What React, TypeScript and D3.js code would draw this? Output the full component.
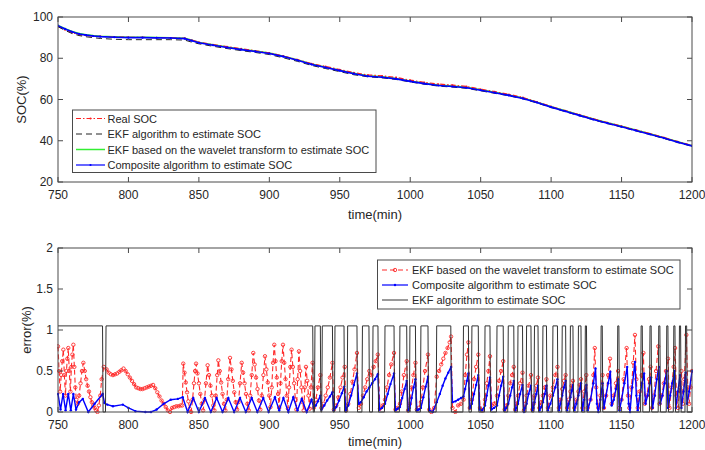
import React from 'react';
import * as d3 from 'd3';

// ---------- axes ----------
const xTicks = [750, 800, 850, 900, 950, 1000, 1050, 1100, 1150, 1200];
const socTicks = [20, 40, 60, 80, 100];
const errTicks = [0, 0.5, 1, 1.5, 2];

// ---------- top: SOC curves ----------
const socTime = [750,755,760,765,770,775,780,790,800,810,820,830,840,845,850,860,870,880,890,900,910,920,930,940,950,960,970,980,990,1000,1010,1020,1030,1040,1050,1060,1070,1080,1090,1100,1110,1120,1130,1140,1150,1160,1170,1180,1190,1200];
const socReal = [95.5,93.8,92.4,91.4,91.0,90.7,90.6,90.3,90.2,90.1,90.0,89.9,89.7,88.8,87.8,86.6,85.6,84.6,83.6,82.6,81.1,79.3,77.4,76.0,74.5,73.0,71.9,71.5,70.7,69.4,68.3,67.5,67.0,66.3,65.0,63.8,62.5,61.0,58.8,56.6,54.6,52.6,50.6,48.8,47.1,45.3,43.5,41.6,39.6,37.7];
const socEkf = [95.3,93.5,92.0,91.0,90.4,90.0,89.6,89.2,89.0,89.0,89.0,89.0,88.8,87.8,87.0,85.8,84.7,83.7,82.8,81.8,80.2,78.5,76.5,75.0,73.5,72.0,71.0,70.5,69.7,68.5,67.4,66.5,66.0,65.4,64.2,63.0,61.8,60.3,58.3,56.1,54.1,52.1,50.1,48.3,46.6,44.8,43.0,41.1,39.1,37.3];
const socWavelet = [95.9,94.3,93.0,92.0,91.4,91.0,90.7,90.4,90.2,90.2,90.1,90.0,89.7,88.7,87.7,86.5,85.4,84.4,83.5,82.5,81.0,79.2,77.2,75.7,74.2,72.7,71.5,71.0,70.2,69.0,67.9,67.0,66.5,65.9,64.7,63.5,62.2,60.7,58.7,56.5,54.5,52.5,50.5,48.7,47.0,45.2,43.4,41.5,39.5,37.6];
const socComposite = [95.8,94.2,92.8,91.8,91.2,90.8,90.5,90.2,90.0,90.0,89.9,89.8,89.5,88.5,87.5,86.3,85.2,84.2,83.3,82.3,80.8,79.0,77.0,75.5,74.0,72.5,71.3,70.8,70.0,68.8,67.7,66.8,66.3,65.7,64.5,63.3,62.0,60.5,58.5,56.3,54.3,52.3,50.3,48.5,46.8,45.0,43.2,41.3,39.3,37.5];

// ---------- bottom: errors ----------
const ekfErrLevel = 1.05;
const ekfHighIntervals: [number, number][] = [
  [750,781.6],[784.1,930.8],[932.4,936.2],[937.6,944.8],[946.6,953.0],[955.6,962.2],[966.1,970.7],[973.6,977.1],
  [982.1,988.5],[992.7,997.5],[999.8,1003.7],[1007.6,1012.6],[1018.8,1028.8],[1037.8,1041.3],[1043.8,1048.3],
  [1053.1,1056.6],[1061.6,1066.0],[1069.6,1073.5],[1076.5,1079.7],[1082.6,1085.7],[1088.2,1090.7],[1094.2,1096.7],
  [1101.3,1104.5],[1107.9,1110.3],[1113.7,1115.5],[1119.4,1121.2],[1124.3,1125.1],[1135.5,1136.3],[1147.3,1148.1],
  [1163.9,1164.7],[1170.2,1171.0],[1176.4,1177.2],[1182.1,1182.9],[1187.1,1187.9],[1191.1,1191.9],[1195.4,1196.2]
];

const waveletErr: [number, number][] = [
  [750,0.8],[750.8,0.5],[751.5,0.25],[752.3,0.45],[753,0.62],[753.8,0.76],[754.5,0.45],[755.3,0.2],[756,0.5],[756.6,0.65],[757.3,0.78],[758,0.5],[758.8,0.25],[759.5,0.55],[760.2,0.7],[760.9,0.82],[761.6,0.55],[762.3,0.3],[763,0.15],[764,0.1],[765,0.2],[766,0.35],[767,0.5],[768,0.6],[769,0.5],[770,0.4],[771,0.32],[772,0.25],[773,0.18],[774,0.12],[775,0.08],[776,0.05],[777,0.02],[778,0.0],[779,0.08],[780,0.2],[781,0.4],[782.5,0.55],
  [784.5,0.52],[786,0.48],[787.5,0.46],[789,0.45],[790.5,0.46],[792,0.47],[793.5,0.49],[795,0.51],[796.5,0.53],[798,0.5],[799.5,0.46],[801,0.42],[802.5,0.38],[804,0.34],[805.5,0.3],[807,0.29],[808.5,0.28],[810,0.28],[811.5,0.29],[813,0.3],[814.5,0.31],[816,0.32],[817.5,0.33],[819,0.29],[820.5,0.24],[822,0.19],[823.5,0.14],[825,0.1],[826.5,0.06],[828,0.02],[829.5,0.0],[831,0.05],[832.5,0.06],[834,0.07],[835.5,0.07],[837,0.08],[838.2,0.08],
  [838.9,0.59],[839.8,0.48],[840.7,0.36],[841.6,0.24],[842.5,0.13],[843.5,0.04],[844.5,0.0],[845.5,0.15],[846.5,0.35],[847.3,0.5],[848,0.59],
  [849,0.47],[850,0.35],[851,0.22],[852,0.1],[853,0.02],[854,0.15],[855,0.35],[856.2,0.57],
  [857.2,0.45],[858.2,0.32],[859.2,0.2],[860.2,0.08],[861,0.02],[862,0.2],[863,0.45],[863.8,0.63],
  [864.8,0.5],[865.8,0.36],[866.8,0.22],[867.8,0.1],[868.8,0.02],[869.8,0.15],[870.8,0.4],[872.1,0.66],
  [873.1,0.52],[874.1,0.38],[875.1,0.24],[876.1,0.12],[877.1,0.03],[878.1,0.12],[879.2,0.35],[880.4,0.6],
  [881.4,0.48],[882.4,0.35],[883.4,0.22],[884.4,0.1],[885.4,0.02],[886.4,0.2],[887.5,0.45],[888.6,0.72],
  [889.6,0.58],[890.6,0.42],[891.6,0.28],[892.6,0.14],[893.6,0.03],[894.6,0.2],[895.8,0.45],[896.9,0.68],
  [897.9,0.52],[898.9,0.36],[899.9,0.2],[900.8,0.06],[901.7,0.3],[902.6,0.6],[903.5,0.82],
  [904.4,0.62],[905.3,0.42],[906.2,0.22],[907,0.05],[907.9,0.35],[908.8,0.62],[909.7,0.82],
  [910.6,0.6],[911.5,0.4],[912.4,0.2],[913.2,0.04],[914,0.3],[914.9,0.55],[915.8,0.76],
  [916.7,0.55],[917.6,0.35],[918.5,0.15],[919.2,0.03],[920.1,0.4],[921,0.74],
  [921.9,0.5],[922.8,0.3],[923.7,0.12],[924.4,0.02],[925.2,0.3],[926,0.55],
  [926.9,0.38],[927.8,0.2],[928.6,0.04],[929.5,0.3],[930.7,0.6],
  [931.5,0.05],[933,0.15],[934.5,0.3],[936.2,0.45],[937,0.05],[938.5,0.1],[940,0.2],[941.5,0.3],[943,0.42],[944.8,0.6],[945.8,0.03],[947.5,0.08],[949,0.18],[950.5,0.3],[952,0.42],[953.5,0.55],[954.5,0.02],[956,0.1],[957.5,0.22],[959,0.37],[960.5,0.52],[962.2,0.72],[963.5,0.05],[965,0.1],[966.5,0.2],[968,0.3],[969.5,0.4],[971,0.5],[972.5,0.45],[974,0.55],[975.5,0.62],[977,0.7],[978.5,0.04],[980.5,0.08],[982.1,0.15],[983.5,0.3],[985,0.45],[986.5,0.58],[988.5,0.72],[989.5,0.03],[991,0.05],[992.7,0.1],[994,0.25],[995.5,0.45],[997.5,0.62],[998.5,0.02],[999.8,0.1],[1001,0.3],[1002.3,0.45],[1003.7,0.6],[1004.7,0.03],[1006,0.05],[1007.6,0.12],[1009,0.3],[1010.5,0.5],[1012.6,0.7],[1013.5,0.03],[1015,0.0],[1017,0.05],[1018.8,0.43],[1020.5,0.5],[1022,0.58],[1023.5,0.65],[1025,0.72],[1026.5,0.78],[1028,0.85],[1029,0.92],
  [1030,0.05],[1032,0.0],[1034,0.08],[1036,0.1],[1037.8,0.15],[1039,0.45],[1040.3,0.7],[1041.3,0.85],[1042.3,0.05],[1043.8,0.15],[1045.3,0.4],[1046.8,0.55],[1048.3,0.7],[1049.5,0.05],[1051,0.02],[1053.1,0.15],[1054.3,0.35],[1055.5,0.5],[1056.6,0.68],[1057.8,0.05],[1059.5,0.1],[1061.6,0.2],[1063,0.38],[1064.5,0.5],[1066,0.62],[1067,0.03],[1068.3,0.08],[1069.6,0.2],[1071,0.35],[1072.3,0.45],[1073.5,0.55],[1074.5,0.03],[1075.5,0.1],[1076.5,0.2],[1078,0.35],[1079.7,0.48],[1080.7,0.02],[1081.6,0.1],[1082.6,0.2],[1084,0.32],[1085.7,0.45],[1086.7,0.03],[1087.5,0.1],[1088.2,0.2],[1089.5,0.32],[1090.7,0.42],[1091.7,0.05],[1093,0.12],[1094.2,0.2],[1095.5,0.3],[1096.7,0.4],[1097.7,0.05],[1099.5,0.2],[1101.3,0.3],[1103,0.45],[1104.5,0.55],[1105.5,0.05],[1106.7,0.15],[1107.9,0.28],[1109.1,0.38],[1110.3,0.45],[1111.3,0.05],[1112.5,0.15],[1113.7,0.25],[1114.6,0.32],[1115.5,0.38],[1116.5,0.05],[1118,0.15],[1119.4,0.25],[1120.3,0.33],[1121.2,0.4],[1122.2,0.05],[1123.5,0.25],[1125,0.45],[1126,0.05],[1128,0.15],[1130,0.45],[1131,0.78],[1132,0.3],[1133.5,0.05],[1135,0.2],[1136.5,0.45],[1137.5,0.05],[1139,0.2],[1140.5,0.45],[1141.8,0.65],[1143,0.1],[1144.5,0.2],[1146,0.35],[1147.5,0.5],[1148.5,0.05],[1150,0.15],[1151.5,0.4],[1153.6,0.78],[1154.6,0.2],[1155.5,0.05],[1157,0.3],[1158.3,0.6],[1159.5,0.94],[1160.5,0.4],[1161.5,0.05],[1163,0.25],[1164.3,0.45],[1165.5,0.72],[1166.5,0.1],[1168,0.2],[1169.5,0.4],[1170.6,0.55],[1171.6,0.05],[1173,0.2],[1174.5,0.5],[1176,0.8],[1177,0.1],[1178.5,0.2],[1180,0.35],[1181.5,0.5],[1183,0.65],[1184,0.05],[1185.5,0.3],[1187,0.55],[1188,0.78],[1189,0.2],[1190,0.05],[1191.5,0.3],[1192.5,0.5],[1193.5,0.1],[1194.5,0.4],[1196,0.94],[1197,0.3],[1198,0.1],[1199,0.3],[1200,0.5]
];

const compositeErr: [number, number][] = [
  [750,0.22],[751.8,0.03],[753.6,0.22],[755.4,0.02],[757.3,0.22],[759.1,0.02],[760.9,0.22],[762.8,0.03],[765,0.12],[767.6,0.16],[771.5,0.0],[776,0.1],[781.7,0.22],[783,0.11],[785,0.09],[789,0.07],[796,0.09],[800,0.05],[805,0.01],[812,0.0],[816,0.0],[820,0.03],[825,0.1],[830,0.15],[835,0.16],[838.5,0.18],
  [842,0.0],[846,0.17],[850,0.0],[854.3,0.17],[858.5,0.0],[862.6,0.17],[866.8,0.0],[870.9,0.17],[875,0.0],[879.2,0.17],[883.3,0.0],[887.5,0.17],[891.5,0.0],[895.7,0.17],[899.5,0.0],[904,0.18],[907,0.02],[910,0.17],[913.5,0.0],[917,0.18],[920,0.02],[923,0.16],[926.5,0.0],[930,0.15],
  [931.5,0.05],[933,0.08],[934.5,0.13],[936.2,0.2],[937,0.03],[939,0.08],[941,0.14],[943,0.19],[944.8,0.24],[945.8,0.02],[947.5,0.06],[949.5,0.14],[951.5,0.23],[953.2,0.31],[954.3,0.02],[956,0.08],[958,0.2],[960,0.33],[962.2,0.47],[963.5,0.1],[965,0.12],[967,0.18],[969,0.25],[971,0.3],[973,0.35],[975,0.4],[977,0.46],[978.2,0.03],[980,0.05],[982.1,0.1],[984,0.22],[986,0.34],[988.5,0.47],[989.5,0.02],[991,0.04],[992.7,0.06],[994.3,0.17],[996,0.28],[997.5,0.38],[998.5,0.02],[999.8,0.05],[1001,0.17],[1002.4,0.3],[1003.7,0.4],[1004.7,0.02],[1006,0.03],[1007.6,0.05],[1009.3,0.18],[1011,0.31],[1012.6,0.43],[1013.6,0.02],[1016,0.0],[1018.8,0.12],[1021,0.22],[1023,0.32],[1025,0.41],[1027,0.48],[1029,0.55],
  [1030,0.12],[1032,0.13],[1034,0.15],[1036,0.17],[1037.8,0.19],[1039,0.28],[1040.2,0.38],[1041.3,0.47],[1042.3,0.05],[1043.8,0.1],[1045.3,0.22],[1046.8,0.33],[1048.3,0.45],[1049.3,0.03],[1051,0.02],[1053.1,0.08],[1054.3,0.2],[1055.5,0.32],[1056.6,0.42],[1057.6,0.03],[1059.5,0.05],[1061.6,0.08],[1063,0.2],[1064.5,0.32],[1066,0.43],[1067,0.02],[1068.3,0.05],[1069.6,0.1],[1071,0.2],[1072.3,0.3],[1073.5,0.38],[1074.5,0.02],[1075.5,0.05],[1076.5,0.1],[1078,0.22],[1079.7,0.33],[1080.7,0.0],[1081.6,0.05],[1082.6,0.1],[1084,0.22],[1085.7,0.32],[1086.7,0.02],[1087.5,0.05],[1088.2,0.12],[1089.5,0.22],[1090.7,0.32],[1091.7,0.02],[1093,0.06],[1094.2,0.12],[1095.5,0.22],[1096.7,0.32],[1097.7,0.02],[1099.5,0.1],[1101.3,0.2],[1103,0.3],[1104.5,0.4],[1105.5,0.02],[1106.7,0.1],[1107.9,0.2],[1109.1,0.3],[1110.3,0.38],[1111.3,0.02],[1112.5,0.1],[1113.7,0.18],[1114.6,0.26],[1115.5,0.33],[1116.5,0.02],[1118,0.1],[1119.4,0.2],[1120.3,0.28],[1121.2,0.35],[1122.2,0.02],[1123.5,0.15],[1125,0.33],[1126,0.02],[1128,0.15],[1130,0.35],[1131.5,0.53],[1132.5,0.1],[1133.5,0.0],[1135,0.15],[1136.5,0.35],[1137.5,0.05],[1139,0.2],[1140.5,0.35],[1142,0.49],[1143,0.08],[1144.5,0.15],[1146,0.28],[1147.5,0.4],[1148.5,0.02],[1150,0.15],[1152,0.35],[1154,0.55],[1155,0.1],[1156,0.0],[1157.5,0.3],[1159.5,0.61],[1160.5,0.2],[1161.5,0.02],[1163,0.2],[1164.5,0.35],[1166,0.47],[1167,0.1],[1168.5,0.2],[1170,0.35],[1171,0.42],[1172,0.05],[1173.5,0.2],[1175,0.4],[1176.5,0.55],[1177.5,0.1],[1179,0.2],[1180.5,0.35],[1182,0.5],[1183,0.05],[1184.5,0.2],[1186,0.35],[1187.5,0.5],[1188.5,0.05],[1190,0.25],[1191.5,0.45],[1192.5,0.05],[1194,0.25],[1195.5,0.48],[1196.5,0.1],[1198,0.25],[1200,0.5]
];

const topLegend = ['Real SOC', 'EKF algorithm to estimate SOC', 'EKF based on the wavelet transform to estimate SOC', 'Composite algorithm to estimate SOC'];
const bottomLegend = ['EKF based on the wavelet transform to estimate SOC', 'Composite algorithm to estimate SOC', 'EKF algorithm to estimate SOC'];

// ---------- layout ----------
const W = 705, H = 450;
const L = 58, R = 692;
const T1 = 17, B1 = 182;
const T2 = 248, B2 = 412;
const FONT = '"Liberation Sans", Arial, Helvetica, sans-serif';
const TXT = '#262626';
const AX = '#4a4a4a';

const x = d3.scaleLinear().domain([750, 1200]).range([L, R]);
const ySoc = d3.scaleLinear().domain([20, 100]).range([B1, T1]);
const yErr = d3.scaleLinear().domain([0, 2]).range([B2, T2]);

function Frame({ y, yTicks, top, bottom, fmt }: any) {
  const tl = 5;
  return (
    <g>
      <rect x={L} y={top} width={R - L} height={bottom - top} fill="none" stroke={AX} strokeWidth={1} />
      {xTicks.map((t) => (
        <g key={'x' + t}>
          <line x1={x(t)} x2={x(t)} y1={bottom} y2={bottom - tl} stroke={AX} />
          <line x1={x(t)} x2={x(t)} y1={top} y2={top + tl} stroke={AX} />
          <text x={x(t)} y={bottom + 17} textAnchor="middle" fontSize={12} fill={TXT} fontFamily={FONT}>{t}</text>
        </g>
      ))}
      {yTicks.map((t: number) => (
        <g key={'y' + t}>
          <line x1={L} x2={L + tl} y1={y(t)} y2={y(t)} stroke={AX} />
          <line x1={R} x2={R - tl} y1={y(t)} y2={y(t)} stroke={AX} />
          <text x={L - 5} y={y(t) + 4} textAnchor="end" fontSize={12} fill={TXT} fontFamily={FONT}>{fmt(t)}</text>
        </g>
      ))}
    </g>
  );
}

export default function App() {
  const socLine = (vals: number[]) =>
    d3.line<number>().x((_, i) => x(socTime[i])).y((v) => ySoc(v))(vals) as string;
  const errLine = d3.line<[number, number]>().x((d) => x(d[0])).y((d) => yErr(d[1]));

  const ekfPts: [number, number][] = [];
  ekfHighIntervals.forEach(([a, b]) => {
    if (a > 750) ekfPts.push([a - 0.4, 0]);
    ekfPts.push([a, ekfErrLevel], [b, ekfErrLevel], [b + 0.4, 0]);
  });
  ekfPts.push([1200, 0]);

  const ty = [118.5, 134, 149.5, 165];
  const by = [270, 285, 300];

  return (
    <svg width={W} height={H} style={{ position: 'absolute', left: 0, top: 0, background: '#fff' }}>
      <defs>
        <clipPath id="c1"><rect x={L} y={T1} width={R - L} height={B1 - T1} /></clipPath>
        <clipPath id="c2"><rect x={L - 1} y={T2} width={R - L + 2} height={B2 - T2 + 2} /></clipPath>
      </defs>
      <rect x={0} y={0} width={W} height={H} fill="#fff" />

      {/* ---------- top plot ---------- */}
      <g clipPath="url(#c1)">
        <path d={socLine(socWavelet)} fill="none" stroke="#33ee33" strokeWidth={1.5} />
        <path d={socLine(socReal)} fill="none" stroke="#ff2020" strokeWidth={1.2} strokeDasharray="5,2,1.5,2" />
        {socReal.map((v, i) => (
          <circle key={'rm' + i} cx={x(socTime[i])} cy={ySoc(v)} r={0.9} fill="#ff2020" />
        ))}
        <path d={socLine(socEkf)} fill="none" stroke="#222" strokeWidth={1} strokeDasharray="6,4" />
        <path d={socLine(socComposite)} fill="none" stroke="#0000ff" strokeWidth={1.6} />
        {socComposite.map((v, i) => (
          <circle key={'cm' + i} cx={x(socTime[i])} cy={ySoc(v)} r={1.1} fill="#0000ff" />
        ))}
      </g>
      <Frame y={ySoc} yTicks={socTicks} top={T1} bottom={B1} fmt={(t: number) => String(t)} />
      <text x={375} y={219} textAnchor="middle" fontSize={13} fill={TXT} fontFamily={FONT}>time(min)</text>
      <text transform={`translate(26,${(T1 + B1) / 2}) rotate(-90)`} textAnchor="middle" fontSize={13} fill={TXT} fontFamily={FONT}>SOC(%)</text>

      {/* top legend */}
      <rect x={72.5} y={110} width={303.5} height={62.5} fill="#fff" stroke={AX} strokeWidth={1} />
      <line x1={76} x2={105} y1={ty[0]} y2={ty[0]} stroke="#ff2020" strokeWidth={1.2} strokeDasharray="5,2,1.5,2" />
      <circle cx={90.5} cy={ty[0]} r={1} fill="#ff2020" />
      <line x1={76} x2={105} y1={ty[1]} y2={ty[1]} stroke="#222" strokeWidth={1} strokeDasharray="6,4" />
      <line x1={76} x2={105} y1={ty[2]} y2={ty[2]} stroke="#33ee33" strokeWidth={1.5} />
      <line x1={76} x2={105} y1={ty[3]} y2={ty[3]} stroke="#0000ff" strokeWidth={1.2} />
      <circle cx={90.5} cy={ty[3]} r={1.1} fill="#0000ff" />
      {topLegend.map((s, i) => (
        <text key={'tl' + i} x={107.5} y={ty[i] + 4} fontSize={11} fill={TXT} fontFamily={FONT}>{s}</text>
      ))}

      {/* ---------- bottom plot ---------- */}
      <g clipPath="url(#c2)">
        <path d={errLine(waveletErr) as string} fill="none" stroke="#ff2a2a" strokeWidth={1.1} strokeDasharray="5,3" />
        {waveletErr.map((d, i) => (
          <circle key={'wm' + i} cx={x(d[0])} cy={yErr(d[1])} r={1.7} fill="none" stroke="#ff2a2a" strokeWidth={0.9} />
        ))}
        <path d={errLine(compositeErr) as string} fill="none" stroke="#0000ff" strokeWidth={1.4} />
        {compositeErr.map((d, i) => (
          <circle key={'bm' + i} cx={x(d[0])} cy={yErr(d[1])} r={1.2} fill="#0000ff" />
        ))}
        <path d={errLine(ekfPts) as string} fill="none" stroke="#333" strokeWidth={1} />
      </g>
      <Frame y={yErr} yTicks={errTicks} top={T2} bottom={B2} fmt={(t: number) => String(t)} />
      <text x={375} y={446} textAnchor="middle" fontSize={13} fill={TXT} fontFamily={FONT}>time(min)</text>
      <text transform={`translate(31,${(T2 + B2) / 2}) rotate(-90)`} textAnchor="middle" fontSize={13} fill={TXT} fontFamily={FONT}>error(%)</text>

      {/* bottom legend */}
      <rect x={377.5} y={260} width={302.5} height={49} fill="#fff" stroke={AX} strokeWidth={1} />
      <line x1={382} x2={408} y1={by[0]} y2={by[0]} stroke="#ff2a2a" strokeWidth={1.1} strokeDasharray="5,3" />
      <circle cx={395} cy={by[0]} r={1.7} fill="none" stroke="#ff2a2a" strokeWidth={0.9} />
      <line x1={382} x2={408} y1={by[1]} y2={by[1]} stroke="#0000ff" strokeWidth={1.2} />
      <circle cx={395} cy={by[1]} r={1.2} fill="#0000ff" />
      <line x1={382} x2={408} y1={by[2]} y2={by[2]} stroke="#333" strokeWidth={1} />
      {bottomLegend.map((s, i) => (
        <text key={'bl' + i} x={412} y={by[i] + 4} fontSize={11} fill={TXT} fontFamily={FONT}>{s}</text>
      ))}
    </svg>
  );
}
